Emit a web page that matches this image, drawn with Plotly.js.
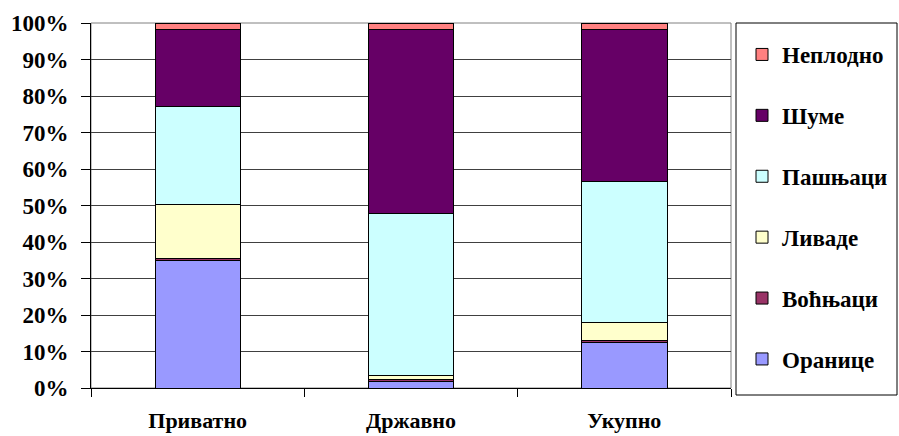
<!DOCTYPE html>
<html>
<head>
<meta charset="utf-8">
<script src="https://cdn.plot.ly/plotly-3.0.1.min.js"></script>
<style>html,body{margin:0;padding:0;background:#fff;}#chart{width:899px;height:436px;}</style>
</head>
<body>
<div id="chart"></div>
<script>
var categories = ['Приватно', 'Државно', 'Укупно'];
var seriesNames = ['Оранице', 'Воћњаци', 'Ливаде', 'Пашњаци', 'Шуме', 'Неплодно'];
var oranice   = [34.8, 1.7, 12.4];
var vocnjaci  = [0.7, 0.6, 0.5];
var livade    = [14.9, 1.2, 5.1];
var pasnjaci  = [26.6, 44.2, 38.7];
var sume      = [21.3, 50.5, 41.5];
var neplodno  = [1.7, 1.8, 1.8];
var yTickVals = [0, 10, 20, 30, 40, 50, 60, 70, 80, 90, 100];
var yTickText = ['0%', '10%', '20%', '30%', '40%', '50%', '60%', '70%', '80%', '90%', '100%'];

var seriesValues = [oranice, vocnjaci, livade, pasnjaci, sume, neplodno];
var colors = ['#9999FF', '#993366', '#FFFFCC', '#CCFFFF', '#660066', '#FF8080'];

var traces = seriesNames.map(function (name, i) {
  return {
    type: 'bar',
    name: name,
    legendgroup: 'g' + i,
    legendrank: 100 - i,
    x: categories,
    y: seriesValues[i],
    marker: { color: colors[i], line: { color: '#000', width: 1 } },
    hoverinfo: 'none'
  };
});

var fam = 'Liberation Serif';
function bf(s) { return { family: fam, size: s, color: '#000', weight: 'bold' }; }

var layout = {
  width: 899, height: 436,
  margin: { l: 91, r: 168, t: 23, b: 48 },
  paper_bgcolor: '#fff', plot_bgcolor: '#fff',
  barmode: 'stack',
  bargap: 0.6,
  font: { family: fam, size: 23, color: '#000' },
  showlegend: true,
  legend: {
    traceorder: 'grouped',
    tracegroupgap: 28,
    xref: 'container', yref: 'container',
    x: 742 / 899, y: 1 - 33 / 436, xanchor: 'left', yanchor: 'top',
    maxheight: 1,
    font: bf(23),
    bgcolor: 'rgba(0,0,0,0)', borderwidth: 0
  },
  xaxis: {
    type: 'category',
    range: [-0.5, 2.5],
    showline: true, linecolor: '#000', linewidth: 1,
    ticks: 'outside', tickson: 'boundaries', ticklen: 8, tickcolor: '#000',
    tickfont: bf(22),
    ticklabelstandoff: 13,
    showgrid: false, zeroline: false
  },
  yaxis: {
    range: [0, 100],
    tickvals: yTickVals, ticktext: yTickText,
    showline: true, linecolor: '#000', linewidth: 1,
    ticks: 'outside', ticklen: 9, tickcolor: '#000',
    tickfont: bf(23),
    ticklabelstandoff: 8,
    showgrid: true, gridcolor: '#404040', gridwidth: 1,
    zeroline: false
  },
  shapes: [
    { type: 'rect', xref: 'paper', yref: 'paper', x0: 0, x1: 1, y0: 0, y1: 1,
      line: { color: '#808080', width: 1 }, fillcolor: 'rgba(0,0,0,0)', layer: 'below' },
    { type: 'rect', xref: 'paper', yref: 'paper',
      x0: (736 - 91) / 640, x1: (897 - 91) / 640,
      y0: (388 - 395) / 365, y1: 1.0,
      line: { color: '#000', width: 1 }, fillcolor: 'rgba(0,0,0,0)' }
  ]
};

Plotly.newPlot('chart', traces, layout, { staticPlot: true, displayModeBar: false });
</script>
</body>
</html>
